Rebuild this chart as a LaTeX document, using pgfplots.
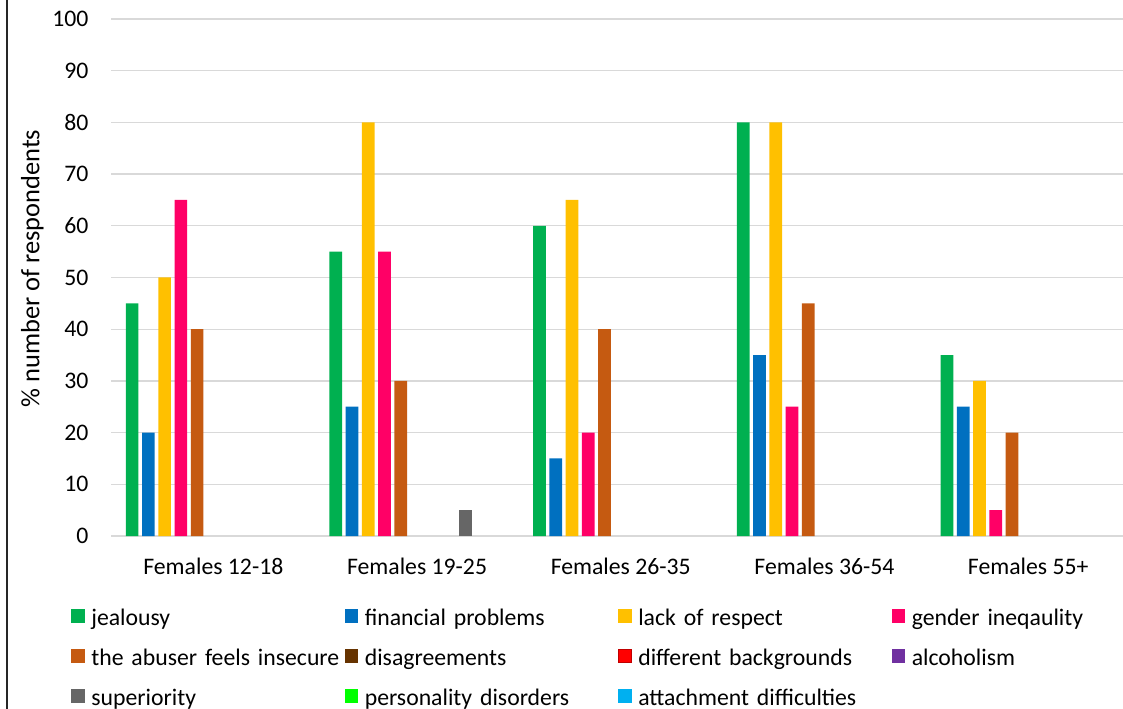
\documentclass[border=0pt]{standalone}
\usepackage{pgfplots}
\pgfplotsset{compat=1.18}
\usepackage{fontspec}
\setmainfont{Carlito}
\definecolor{cJeal}{HTML}{00B050}
\definecolor{cFin}{HTML}{0070C0}
\definecolor{cLack}{HTML}{FFC000}
\definecolor{cGend}{HTML}{FF0066}
\definecolor{cAbus}{HTML}{C55A11}
\definecolor{cDisa}{HTML}{663300}
\definecolor{cDiff}{HTML}{FF0000}
\definecolor{cDiffB}{HTML}{C00000}
\definecolor{cAlco}{HTML}{7030A0}
\definecolor{cSupe}{HTML}{666666}
\definecolor{cPers}{HTML}{00FF00}
\definecolor{cAtta}{HTML}{00B0F0}
\definecolor{gridgray}{HTML}{D9D9D9}
\newcommand{\fsz}{\fontsize{17.8}{21.4}\selectfont}
\newcommand{\fszl}{\fontsize{19.8}{23.8}\selectfont}
\begin{document}
\begin{tikzpicture}
\path[use as bounding box] (-83.625pt,-129.75pt) rectangle (758.625pt,402pt);
\draw[line width=1.5pt, black!85] (-78.4pt,-129.75pt) -- (-78.4pt,402pt);
\begin{axis}[
  at={(0pt,0pt)}, anchor=south west,
  scale only axis, width=763.9pt, height=387.75pt,
  ybar, bar width=9.5pt,
  xmin=-0.5, xmax=4.5, ymin=0, ymax=100,
  xtick={0,1,2,3,4},
  xticklabels={Females 12-18, Females 19-25, Females 26-35, Females 36-54, Females 55+},
  ytick={0,10,...,100},
  axis line style={draw=none},
  major tick length=0pt,
  xtick style={draw=none}, ytick style={draw=none},
  ymajorgrids, grid style={color=gridgray, line width=1pt},
  /pgf/number format/assume math mode=true,
  tick label style={font=\fsz},
  yticklabel style={anchor=east, inner sep=0pt, xshift=-17.1pt},
  xticklabel style={anchor=base, inner sep=0pt, yshift=-28.7pt},
  ylabel={\% number of respondents},
  every axis y label/.style={at={(rel axis cs:-0.0776,0.5174)}, anchor=center, rotate=90, font=\fszl},
  legend columns=4,
  legend cell align=left,
  legend style={
    at={(rel axis cs:0,0)}, anchor=north west, xshift=-30.1pt, yshift=-54.8pt,
    draw=none, fill=none, inner sep=0pt, outer sep=0pt,
    font=\fsz, row sep=16.25pt, column sep=0pt,
    nodes={inner sep=0pt, outer sep=0pt},
    /tikz/every odd column/.append style={column sep=4.9pt},
    /tikz/every even column/.append style={column sep=0pt, text width=190.1pt, align=left, text height=12pt, text depth=4pt},
  },
  legend image code/.code={\path[#1] (0pt,-3.05pt) rectangle (10.1pt,7.05pt);},
]
\addplot[fill=cJeal, draw=none, bar shift=-60.95pt] coordinates {(0,45) (1,55) (2,60) (3,80) (4,35)};
\addlegendentry{jealousy}
\addplot[fill=cFin, draw=none, bar shift=-48.76pt] coordinates {(0,20) (1,25) (2,15) (3,35) (4,25)};
\addlegendentry{financial problems}
\addplot[fill=cLack, draw=none, bar shift=-36.57pt] coordinates {(0,50) (1,80) (2,65) (3,80) (4,30)};
\addlegendentry{lack of respect}
\addplot[fill=cGend, draw=none, bar shift=-24.38pt] coordinates {(0,65) (1,55) (2,20) (3,25) (4,5)};
\addlegendentry{gender ineqaulity}
\addplot[fill=cAbus, draw=none, bar shift=-12.19pt] coordinates {(0,40) (1,30) (2,40) (3,45) (4,20)};
\addlegendentry{the abuser feels insecure}
\addlegendimage{fill=cDisa, draw=none}
\addlegendentry{disagreements}
\addlegendimage{legend image code/.code={\path[fill=cDiff, draw=cDiffB, line width=0.75pt] (0.4pt,-2.65pt) rectangle (9.7pt,6.65pt);}}
\addlegendentry{different backgrounds}
\addlegendimage{fill=cAlco, draw=none}
\addlegendentry{alcoholism}
\addplot[fill=cSupe, draw=none, bar shift=36.57pt] coordinates {(1,5)};
\addlegendentry{superiority}
\addlegendimage{fill=cPers, draw=none}
\addlegendentry{personality disorders}
\addlegendimage{fill=cAtta, draw=none}
\addlegendentry{attachment difficulties}
\end{axis}
\end{tikzpicture}
\end{document}
